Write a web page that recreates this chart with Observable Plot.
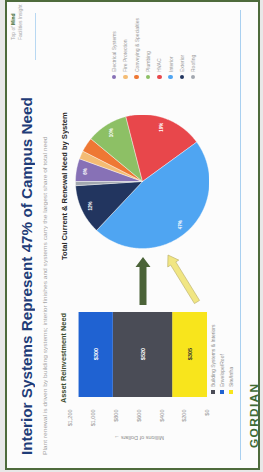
<!DOCTYPE html>
<html><head><meta charset="utf-8">
<script src="https://cdn.jsdelivr.net/npm/d3@7"></script>
<script src="https://cdn.jsdelivr.net/npm/@observablehq/plot@0.6"></script>
<style>
html,body{margin:0;padding:0}
body{width:263px;height:472px;overflow:hidden;background:#e8e8e8;position:relative;font-family:"Liberation Sans",Arial,sans-serif}
#slide{position:absolute;left:0;top:0;width:472px;height:263px;transform-origin:0 0;transform:translateY(472px) rotate(-90deg)}
#slide > *{position:absolute}
.t{white-space:nowrap;transform-origin:0 50%;line-height:1}
#frame{left:2px;top:5px;width:470px;height:255px;box-sizing:border-box;border:2px solid #4e6b3c;background:#fcfcfc}
#title{left:17px;top:19px;font-size:15px;font-weight:bold;color:#1f3c78}
#subtitle{left:17px;top:41.5px;font-size:6px;color:#a6a6a6}
#barTitle{left:69px;top:60px;font-size:7px;font-weight:bold;color:#3b4d2e}
#pieTitle{left:212px;top:61px;font-size:7px;font-weight:bold;color:#2b2b2b}
#barChart{left:26px;top:62px}
#pieChart{left:223px;top:74.5px}
#barLegend{left:78px;top:208.5px;font-size:5px;color:#8c8c8c}
#pieLegend{left:392.5px;top:108.5px;font-size:5px;color:#9a9a9a}
.row{display:flex;align-items:center;white-space:nowrap}
.sq{width:4px;height:4px;margin-right:3px;flex:none}
.dot{width:4.5px;height:4.5px;border-radius:50%;margin-right:3px;flex:none}
#footLine{left:12px;top:240px;width:450px;height:1px;background:#a9d0f0}
#topLine{left:412px;top:35px;width:47px;height:1px;background:#b8d8f2}
#corner{left:432px;top:10px;font-size:5px;color:#a8a8a8;line-height:1.3}
#corner b{color:#3f6b33}
#logo{left:24px;top:249px;font-size:11px;font-weight:bold;color:#3f6b33;letter-spacing:1.2px}
#arrows{left:0;top:0}
</style></head>
<body>
<div id="slide">
  <div id="frame"></div>
  <div id="topLine"></div>
  <div id="corner" class="t">Top of <b>Mind</b><br>Facilities Insight</div>
  <div id="title" class="t">Interior Systems Represent 47% of Campus Need</div>
  <div id="subtitle" class="t">Plant renewal is driven by building systems; interior finishes and systems carry the largest share of total need</div>
  <div id="barTitle" class="t">Asset Reinvestment Need</div>
  <div id="pieTitle" class="t">Total Current &amp; Renewal Need by System</div>
  <div id="barChart"></div>
  <div id="pieChart"></div>
  <div id="barLegend"></div>
  <div id="pieLegend"></div>
  <div id="footLine"></div>
  <div id="logo" class="t">GORDIAN</div>
  <svg id="arrows" width="472" height="263"></svg>
</div>
<script>
// ---- data ----
const barCategories = ["Site/Infra", "Building Systems & Interiors", "Envelope/Roof"]; // bottom -> top
const barValues = [305, 520, 300];
const barLabels = ["$305", "$520", "$300"];
const barLegendOrder = ["Building Systems & Interiors", "Envelope/Roof", "Site/Infra"];
const yTicks = [0, 200, 400, 600, 800, 1000, 1200];

const pieCategories = ["Electrical Systems", "Fire Protection", "Conveying & Specialties", "Plumbing", "HVAC", "Interior", "Exterior", "Roofing"];
const pieShares = [5.5, 2, 3.5, 10, 19, 47, 12, 1];
const pieLabels = ["6%", "", "", "10%", "19%", "47%", "12%", ""];

// ---- colours (scale ranges) ----
const barColors = ["#f8e51c", "#4a4c56", "#1f62d2"];
const pieColors = ["#8771b6", "#f4bc74", "#ee7834", "#8dc065", "#e8474b", "#4fa5f2", "#22355f", "#a3a8b0"];

const font = "Liberation Sans, Arial, sans-serif";

// ---- stacked bar ----
const barData = barCategories.map((c, i) => ({group: "Need", category: c, value: barValues[i], label: barLabels[i]}));
let acc = 0;
barData.forEach(d => { d.mid = acc + d.value / 2; acc += d.value; });

const barPlot = Plot.plot({
  width: 136, height: 150,
  marginLeft: 49, marginRight: 2, marginTop: 8, marginBottom: 5,
  style: {fontFamily: font, fontSize: "5.5px", color: "#8e8e8e", background: "transparent"},
  x: {domain: ["Need"], padding: 0, axis: null},
  y: {domain: [0, 1200], ticks: yTicks, tickFormat: d => "$" + d3.format(",")(d), tickSize: 0, tickPadding: 13,
      label: "Millions of Dollars", labelAnchor: "center", labelOffset: 43},
  color: {domain: barCategories, range: barColors},
  marks: [
    Plot.barY(barData, {x: "group", y: "value", fill: "category"}),
    Plot.text(barData.filter(d => d.category !== barCategories[0]), {x: "group", y: "mid", text: "label", fill: "white", fontSize: 5.5, fontWeight: "bold"}),
    Plot.text(barData.filter(d => d.category === barCategories[0]), {x: "group", y: "mid", text: "label", fill: "#333", fontSize: 5.5, fontWeight: "bold"})
  ]
});
document.getElementById("barChart").appendChild(barPlot);

// ---- pie (polygons from cumulative shares) ----
const total = d3.sum(pieShares);
const piePoints = [];
const pieText = [];
let start = 0;
pieCategories.forEach((c, i) => {
  const a0 = start / total * 2 * Math.PI;
  const a1 = (start + pieShares[i]) / total * 2 * Math.PI;
  start += pieShares[i];
  piePoints.push({category: c, x: 0, y: 0});
  const n = Math.max(2, Math.ceil((a1 - a0) / (Math.PI / 360)));
  for (let k = 0; k <= n; k++) {
    const a = a0 + (a1 - a0) * k / n;
    piePoints.push({category: c, x: Math.sin(a), y: Math.cos(a)});
  }
  piePoints.push({category: c, x: 0, y: 0});
  const am = (a0 + a1) / 2;
  pieText.push({x: 0.86 * Math.sin(am), y: 0.86 * Math.cos(am), text: pieLabels[i]});
});

const piePlot = Plot.plot({
  width: 134, height: 134, margin: 0,
  style: {fontFamily: font, background: "transparent"},
  x: {domain: [-1, 1], axis: null},
  y: {domain: [-1, 1], axis: null},
  color: {domain: pieCategories, range: pieColors},
  marks: [
    Plot.line(piePoints, {x: "x", y: "y", z: "category", fill: "category", stroke: "white", strokeWidth: 0.4, curve: "linear"}),
    Plot.text(pieText, {x: "x", y: "y", text: "text", fill: "white", fontSize: 4.5, fontWeight: "bold"})
  ]
});
document.getElementById("pieChart").appendChild(piePlot);

// ---- legends ----
const bl = document.getElementById("barLegend");
barLegendOrder.forEach(c => {
  const r = document.createElement("div"); r.className = "row"; r.style.height = "9px";
  const s = document.createElement("span"); s.className = "sq"; s.style.background = barColors[barCategories.indexOf(c)];
  r.appendChild(s); r.appendChild(document.createTextNode(c)); bl.appendChild(r);
});
const pl = document.getElementById("pieLegend");
pieCategories.forEach((c, i) => {
  const r = document.createElement("div"); r.className = "row"; r.style.height = "11.3px";
  const s = document.createElement("span"); s.className = "dot"; s.style.background = pieColors[i];
  r.appendChild(s); r.appendChild(document.createTextNode(c)); pl.appendChild(r);
});

// ---- fit text widths ----
function fit(id, w) { const el = document.getElementById(id); el.style.transform = `scaleX(${w / el.offsetWidth})`; }
fit("title", 358); fit("subtitle", 318); fit("barTitle", 90); fit("pieTitle", 148); fit("logo", 65);

// ---- annotation arrows ----
const svg = d3.select("#arrows");
function blockArrow(x0, y0, x1, y1, shaft, head, headLen, fill, stroke) {
  const L = Math.hypot(x1 - x0, y1 - y0), ang = Math.atan2(y1 - y0, x1 - x0) * 180 / Math.PI;
  const b = L - headLen;
  const pts = [[0, -shaft], [b, -shaft], [b, -head], [L, 0], [b, head], [b, shaft], [0, shaft]];
  svg.append("polygon").attr("points", pts.map(p => p.join(",")).join(" "))
    .attr("transform", `translate(${x0},${y0}) rotate(${ang})`)
    .attr("fill", fill).attr("stroke", stroke).attr("stroke-width", 0.6);
}
blockArrow(167, 143, 215, 143, 3.5, 7.5, 10, "#4b6338", "none");
blockArrow(170, 197, 217, 168, 3, 6.5, 10, "#f1e683", "#bdb36c");
</script>
</body></html>
